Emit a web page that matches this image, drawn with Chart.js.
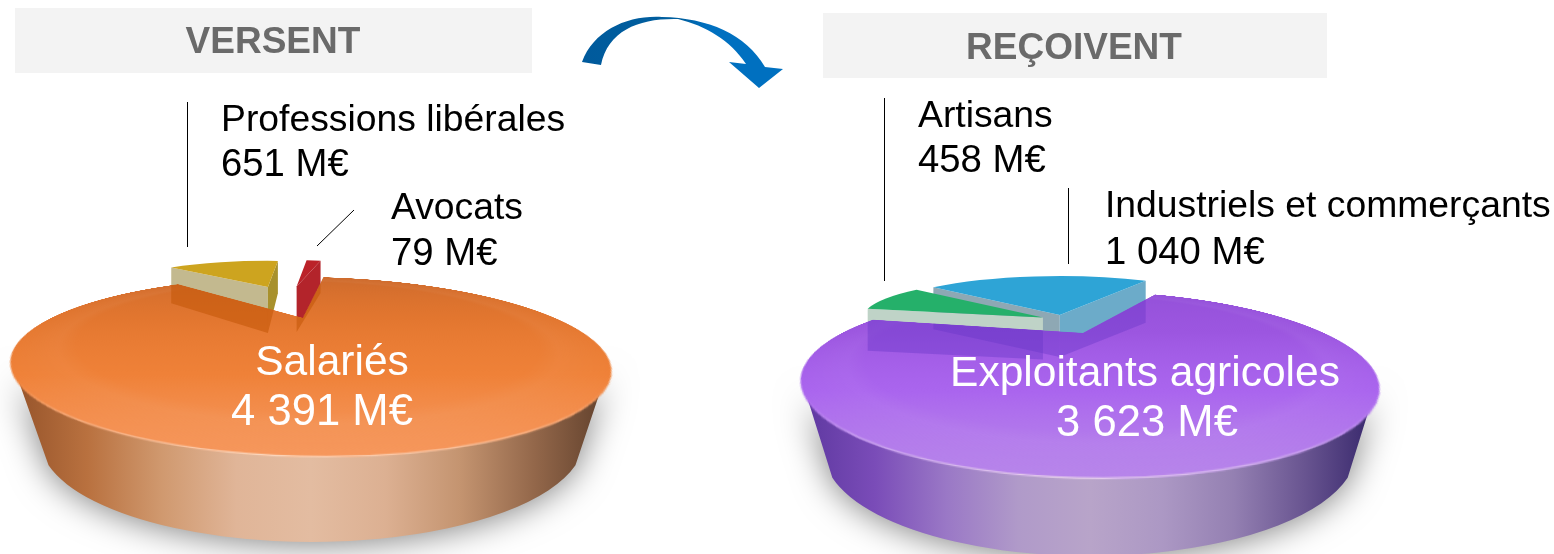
<!DOCTYPE html>
<html lang="fr">
<head>
<meta charset="utf-8">
<title>Versent / Reçoivent</title>
<script src="https://cdn.jsdelivr.net/npm/chart.js@4/dist/chart.umd.min.js"></script>
<style>
    html, body { margin: 0; padding: 0; background: #fff; overflow: hidden; }
    #stage { position: relative; width: 1554px; height: 554px; overflow: hidden; font-family: "Liberation Sans", Arial, sans-serif; }
    #stage canvas { position: absolute; left: 0; top: 0; }
    .tilt { position: absolute; left: 0; top: 0; width: 1554px; height: 554px; }
    .box { position: absolute; background: #f3f3f3; }
    .txt { position: absolute; line-height: 1; white-space: nowrap; color: #000; font-size: 37.3px; }
    .txt.num { font-size: 38.3px; }
    .txt.head { font-size: 37px; font-weight: bold; color: #6a6a6a; transform: translateX(-50%); }
    .txt.inner { color: #fff; font-size: 42.5px; transform: translateX(-50%); }
    .txt.innernum { color: #fff; font-size: 43.6px; transform: translateX(-50%); }
</style>
</head>
<body>
<div id="stage"></div>

<script>
// Who pays and who receives, in millions of euros
const headings = ['VERSENT', 'REÇOIVENT'];
const payerLabels = ['Salariés', 'Professions libérales', 'Avocats'];
const payerValues = [4391, 651, 79];
const receiverLabels = ['Exploitants agricoles', 'Artisans', 'Industriels et commerçants'];
const receiverValues = [3623, 458, 1040];
const unit = 'M€';

// Geometry of the two discs. apex = centre of the circle on screen, tilt/depth = CSS 3D view
const pies = [
    {
        labels: payerLabels, values: payerValues, rotation: 9.5,
        apex: [303, 318], tilt: 75.4, depth: 448, vanishX: 284, radius: 252,
        foot: [312, 440, 272, 102], rimCentre: [311, 365, 298, 80],
        topColors: ['#cd6a2c', '#e2762f', '#ef8138', '#f6975c'],
        wallColors: ['#95532a', '#b9713f', '#d0996f', '#e0b598', '#e3bca1', '#dcb092', '#c49470', '#93674a', '#5f3f2b'],
        raised: { centre: [289, 298], radius: 145, squash: 0.18, offset: 65, colors: ['transparent', '#cda41f', '#bb2229'] },
        wallBase: 33, wallY: 262, wallSlope: 0.52,
        faces: [
            { slice: 2, side: 'endAngle', color: '#b3242b' },
            { slice: 1, side: 'startAngle', color: '#c3b98f' },
            { slice: 1, side: 'endAngle', color: '#a8912d' }
        ],
        ghost: 'rgba(196, 88, 10, 0.6)'
    },
    {
        labels: receiverLabels, values: receiverValues, rotation: 28.5,
        apex: [1083, 333], tilt: 74.3, depth: 419, vanishX: 1067, radius: 241,
        foot: [1090, 452, 266, 104], rimCentre: [1090, 384, 287, 82],
        topColors: ['#9350d8', '#9c56e0', '#aa65ee', '#b785ea'],
        wallColors: ['#5e38a0', '#7a4cb8', '#9a78c6', '#b09ac9', '#b8a4c9', '#ac98c4', '#9480b2', '#685490', '#35256a'],
        raised: { centre: [1063, 320], radius: 180, squash: 0.217, offset: 23, colors: ['transparent', '#25b06a', '#2ea4d6'] },
        wallBase: 42, wallY: 300, wallSlope: 0,
        faces: [
            { slice: 2, side: 'startAngle', color: '#8ea8b4' },
            { slice: 2, side: 'endAngle', color: '#6cabc9' },
            { slice: 1, side: 'startAngle', color: '#bfd3c7' }
        ],
        ghost: 'rgba(104, 54, 200, 0.42)'
    }
];

const stage = document.getElementById('stage');
const WIDTH = 1554, HEIGHT = 554;

function addCanvas(parent, w, h) {
    const c = document.createElement('canvas');
    c.width = w;
    c.height = h;
    c.style.width = w + 'px';
    c.style.height = h + 'px';
    parent.appendChild(c);
    return c;
}

function formatValue(v) {
    return String(v).replace(/\B(?=(\d{3})+$)/g, '\u00a0') + ' ' + unit;
}

// Screen position of a point given in the tilted plane, relative to the apex
function project(pie, x, y) {
    const t = pie.tilt * Math.PI / 180;
    const s = pie.depth / (pie.depth - y * Math.sin(t));
    return [
        pie.vanishX + (pie.apex[0] + x - pie.vanishX) * s,
        pie.apex[1] + y * Math.cos(t) * s
    ];
}

// Shadow and side of the disc, painted below everything else
function drawDiscSide(ctx, pie) {
    const [fx, fy, frx, fry] = pie.foot;
    const [cx, cy, rx, ry] = pie.rimCentre;
    const joinAngle = Math.PI * 0.08;

    const g = ctx.createLinearGradient(cx - rx, 0, cx + rx, 0);
    pie.wallColors.forEach((col, i) => g.addColorStop(i / (pie.wallColors.length - 1), col));

    ctx.save();
    ctx.shadowColor = 'rgba(0, 0, 0, 0.5)';
    ctx.shadowBlur = 34;
    ctx.shadowOffsetY = 2;
    ctx.fillStyle = g;
    ctx.beginPath();
    ctx.ellipse(cx, cy, rx, ry, 0, 0, Math.PI);
    ctx.ellipse(fx, fy, frx, fry, 0, Math.PI - joinAngle, joinAngle, true);
    ctx.closePath();
    ctx.fill();
    ctx.restore();
}

// Corners of a radial wall of a raised slice
function facePoints(pie, arc, side) {
    const r = pie.raised;
    const mid = (arc.startAngle + arc.endAngle) / 2;
    const tx = r.centre[0] + Math.cos(mid) * r.offset;
    const ty = r.centre[1] + Math.sin(mid) * r.offset * r.squash;
    const a = arc[side];
    const ex = tx + Math.cos(a) * r.radius;
    const ey = ty + Math.sin(a) * r.radius * r.squash;
    const drop = y => pie.wallBase + (y - pie.wallY) * pie.wallSlope;
    return [[tx, ty], [ex, ey], [ex, ey + drop(ey)], [tx, ty + drop(ty)]];
}

function tracePoly(ctx, pts) {
    ctx.moveTo(pts[0][0], pts[0][1]);
    pts.slice(1).forEach(p => ctx.lineTo(p[0], p[1]));
    ctx.closePath();
}

// Top faces of the lifted slices: same data, flatter plane, walls hung under them
function raisedPlugin(pie) {
    return {
        id: 'raisedPlane',
        afterDatasetsUpdate(chart) {
            // pull each slice out along its own middle angle
            chart.getDatasetMeta(0).data.forEach(arc => {
                const mid = (arc.startAngle + arc.endAngle) / 2;
                arc.x += Math.cos(mid) * pie.raised.offset;
                arc.y += Math.sin(mid) * pie.raised.offset;
            });
        },
        beforeDatasetsDraw(chart) {
            const ctx = chart.ctx;
            const arcs = chart.getDatasetMeta(0).data;
            pie.faces.forEach(f => {
                ctx.fillStyle = f.color;
                ctx.beginPath();
                tracePoly(ctx, facePoints(pie, arcs[f.slice], f.side));
                ctx.fill();
            });
            ctx.save();
            ctx.translate(pie.raised.centre[0], pie.raised.centre[1]);
            ctx.scale(1, pie.raised.squash);
            ctx.translate(-chart.width / 2, -chart.height / 2);
        },
        afterDatasetsDraw(chart) {
            chart.ctx.restore();
        }
    };
}

// Soft lit band along the rim of the big slice
const rimPlugin = {
    id: 'rimLight',
    afterDatasetsDraw(chart) {
        const ctx = chart.ctx;
        const arc = chart.getDatasetMeta(0).data[0];
        const r = arc.outerRadius;
        const g = ctx.createRadialGradient(arc.x, arc.y, r * 0.82, arc.x, arc.y, r);
        g.addColorStop(0, 'rgba(255,255,255,0)');
        g.addColorStop(0.3, 'rgba(255,255,255,0.035)');
        g.addColorStop(1, 'rgba(255,255,255,0)');
        ctx.save();
        ctx.fillStyle = g;
        ctx.beginPath();
        ctx.arc(arc.x, arc.y, r, arc.startAngle, arc.endAngle);
        ctx.arc(arc.x, arc.y, r * 0.82, arc.endAngle, arc.startAngle, true);
        ctx.closePath();
        ctx.fill();

        const line = ctx.createLinearGradient(arc.x - r, 0, arc.x + r, 0);
        line.addColorStop(0.12, 'rgba(255,255,255,0)');
        line.addColorStop(0.45, 'rgba(255,245,235,0.7)');
        line.addColorStop(0.88, 'rgba(255,255,255,0)');
        ctx.strokeStyle = line;
        ctx.lineWidth = 1.2;
        ctx.beginPath();
        ctx.arc(arc.x, arc.y, r - 0.6, Math.PI * 0.15, Math.PI * 0.85);
        ctx.stroke();
        ctx.restore();
    }
};

// Part of the lifted walls seen through the big slice
function drawGhost(ctx, pie, mainArc, raisedArcs) {
    const steps = 120;
    ctx.save();
    ctx.beginPath();
    const apex = project(pie, 0, 0);
    ctx.moveTo(apex[0], apex[1]);
    for (let i = 0; i <= steps; i++) {
        const a = mainArc.startAngle + (mainArc.endAngle - mainArc.startAngle) * i / steps;
        const p = project(pie, Math.cos(a) * pie.radius, Math.sin(a) * pie.radius);
        ctx.lineTo(p[0], p[1]);
    }
    ctx.closePath();
    ctx.clip();

    // one fill per wall, so overlapping walls get darker
    ctx.fillStyle = pie.ghost;
    pie.faces.forEach(f => {
        ctx.beginPath();
        tracePoly(ctx, facePoints(pie, raisedArcs[f.slice], f.side));
        ctx.fill();
    });
    ctx.restore();
}

function sharedOptions(pie, radius) {
    return {
        responsive: false,
        animation: false,
        rotation: pie.rotation,
        radius: radius,
        cutout: 0,
        events: [],
        layout: { padding: 0 },
        plugins: { legend: { display: false }, tooltip: { enabled: false }, title: { display: false } }
    };
}

function drawArrow(ctx) {
    const g = ctx.createLinearGradient(582, 0, 783, 0);
    g.addColorStop(0, '#005a9c');
    g.addColorStop(0.5, '#005f9f');
    g.addColorStop(0.62, '#0070c0');
    g.addColorStop(1, '#0070c0');
    ctx.fillStyle = g;
    ctx.beginPath();
    ctx.moveTo(582, 62);
    ctx.bezierCurveTo(594, 30, 628, 15, 662, 17);
    ctx.bezierCurveTo(708, 18, 746, 34, 765, 67);
    ctx.lineTo(783, 69);
    ctx.lineTo(759, 88);
    ctx.lineTo(729, 62);
    ctx.lineTo(746, 64);
    ctx.bezierCurveTo(730, 40, 706, 26, 678, 19);
    ctx.bezierCurveTo(640, 18, 608, 30, 601, 65);
    ctx.closePath();
    ctx.fill();
}

function addBox(x, y, w, h) {
    const d = document.createElement('div');
    d.className = 'box';
    d.style.cssText = `left:${x}px;top:${y}px;width:${w}px;height:${h}px`;
    stage.appendChild(d);
}

function addText(text, x, top, cls) {
    const d = document.createElement('div');
    d.className = 'txt ' + (cls || '');
    d.textContent = text;
    d.style.left = x + 'px';
    d.style.top = top + 'px';
    stage.appendChild(d);
}

// Draw everything, back to front
addBox(15, 8, 517, 65);
addBox(823, 13, 504, 65);

const under = addCanvas(stage, WIDTH, HEIGHT);
const underCtx = under.getContext('2d');
pies.forEach(pie => drawDiscSide(underCtx, pie));
drawArrow(underCtx);

const charts = pies.map(pie => {
    const raisedCanvas = addCanvas(stage, WIDTH, HEIGHT);
    const raised = new Chart(raisedCanvas, {
        type: 'pie',
        data: {
            labels: pie.labels,
            datasets: [{
                data: pie.values,
                backgroundColor: pie.raised.colors,
                borderWidth: 0
            }]
        },
        options: sharedOptions(pie, pie.raised.radius),
        plugins: [raisedPlugin(pie)]
    });

    // The big slice lives on its own canvas, tilted in CSS
    const size = 640;
    const wrap = document.createElement('div');
    wrap.className = 'tilt';
    wrap.style.perspective = pie.depth + 'px';
    wrap.style.perspectiveOrigin = pie.vanishX + 'px ' + pie.apex[1] + 'px';
    stage.appendChild(wrap);
    const mainCanvas = addCanvas(wrap, size, size);
    mainCanvas.style.left = (pie.apex[0] - size / 2) + 'px';
    mainCanvas.style.top = (pie.apex[1] - size / 2) + 'px';
    mainCanvas.style.transform = 'rotateX(' + pie.tilt + 'deg)';

    const fill = mainCanvas.getContext('2d').createLinearGradient(0, size / 2 - pie.radius, 0, size / 2 + pie.radius);
    fill.addColorStop(0, pie.topColors[0]);
    fill.addColorStop(0.5, pie.topColors[1]);
    fill.addColorStop(0.8, pie.topColors[2]);
    fill.addColorStop(1, pie.topColors[3]);

    const main = new Chart(mainCanvas, {
        type: 'pie',
        data: {
            labels: pie.labels,
            datasets: [{
                data: pie.values,
                backgroundColor: [fill, 'transparent', 'transparent'],
                borderWidth: 0
            }]
        },
        options: sharedOptions(pie, pie.radius),
        plugins: [rimPlugin]
    });
    return { pie, raised, main };
});

const over = addCanvas(stage, WIDTH, HEIGHT);
const overCtx = over.getContext('2d');
charts.forEach(c => {
    drawGhost(overCtx, c.pie, c.main.getDatasetMeta(0).data[0], c.raised.getDatasetMeta(0).data);
});

// Leader lines
overCtx.strokeStyle = '#000';
overCtx.lineWidth = 1;
[[187.5, 102, 187.5, 247], [354, 210, 317, 246], [884.5, 98, 884.5, 281], [1068.5, 188, 1068.5, 264]].forEach(l => {
    overCtx.beginPath();
    overCtx.moveTo(l[0], l[1]);
    overCtx.lineTo(l[2], l[3]);
    overCtx.stroke();
});

// Text
addText(headings[0], 273, 22, 'head');
addText(headings[1], 1074, 28, 'head');
addText(payerLabels[1], 221, 100);
addText(formatValue(payerValues[1]), 221, 144, 'num');
addText(payerLabels[2], 391, 188);
addText(formatValue(payerValues[2]), 391, 233, 'num');
addText(receiverLabels[1], 918, 96);
addText(formatValue(receiverValues[1]), 918, 140, 'num');
addText(receiverLabels[2], 1105, 186);
addText(formatValue(receiverValues[2]), 1105, 232, 'num');
addText(payerLabels[0], 332, 340, 'inner');
addText(formatValue(payerValues[0]), 322, 389, 'innernum');
addText(receiverLabels[0], 1145, 351, 'inner');
addText(formatValue(receiverValues[0]), 1147, 400, 'innernum');
</script>
</body>
</html>
